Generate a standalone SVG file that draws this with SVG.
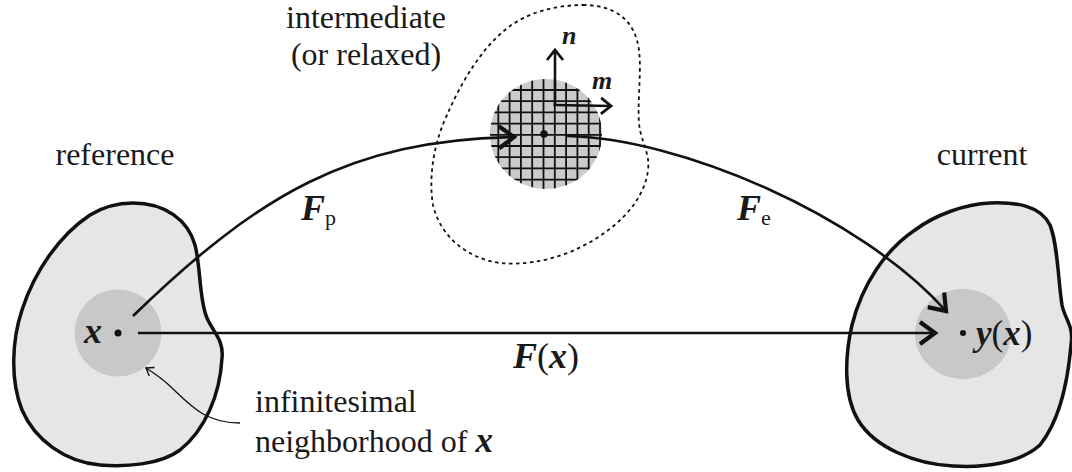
<svg xmlns="http://www.w3.org/2000/svg" width="1072" height="472" viewBox="0 0 1072 472">
<style>
  .txt { font-family: 'Liberation Serif', 'Times New Roman', serif; font-size: 32px; fill: #1a1a1a; }
  .math { font-family: 'Liberation Serif', 'Times New Roman', serif; font-style: italic; font-weight: bold; fill: #1a1a1a; }
  .up { font-style: normal; font-weight: normal; }
  .body { fill: #e6e6e6; stroke: #111; stroke-width: 3.5; stroke-linejoin: round; }
  .nbhd { fill: #c8c8c8; stroke: none; }
  .conn { fill: none; stroke: #111; stroke-width: 2.6; }
  .thin { fill: none; stroke: #111; stroke-width: 1.3; }
  .grid line { stroke: #111; stroke-width: 1.8; }
  .dot { fill: #111; }
</style>
<defs>
  <marker id="chev" markerUnits="userSpaceOnUse" orient="auto" refX="0" refY="0" markerWidth="30" markerHeight="30" overflow="visible">
    <path d="M -15,-11 L 0,0 L -15,11" fill="none" stroke="#111" stroke-width="4.2" stroke-linejoin="miter"/>
  </marker>
  <marker id="chev-m" markerUnits="userSpaceOnUse" orient="auto" refX="0" refY="0" markerWidth="20" markerHeight="20" overflow="visible">
    <path d="M -10,-8 L 0,0 L -10,8" fill="none" stroke="#111" stroke-width="2.8"/>
  </marker>
  <marker id="chev-s" markerUnits="userSpaceOnUse" orient="auto" refX="0" refY="0" markerWidth="14" markerHeight="14" overflow="visible">
    <path d="M -7,-5 L 0,0 L -7,5" fill="none" stroke="#111" stroke-width="1.4"/>
  </marker>
  <clipPath id="gridclip">
    <ellipse cx="546" cy="134" rx="56" ry="55"/>
  </clipPath>
</defs>

<g id="intermediate-region">
  <path d="M 583,5 C 615,5 635,20 639,50 C 642,75 636,110 640,130 C 643,145 650,155 648,170 C 644,205 610,235 570,252 C 545,262 520,265 500,263 C 465,258 440,235 433,205 C 428,175 435,140 447,115 C 460,85 480,50 505,30 C 525,13 555,5 583,5 Z" fill="none" stroke="#111" stroke-width="1.8" stroke-dasharray="3.5,3.5"/>
</g>

<g id="reference">
  <path class="body" d="M 133,203 C 165,203 188,220 195,245 C 201,268 199,300 207,318 C 213,332 224,340 222,358 C 220,395 205,430 180,450 C 160,465 125,467 100,465 C 65,462 35,440 22,410 C 10,380 12,340 22,310 C 35,270 60,235 90,215 C 103,207 118,203 133,203 Z"/>
  <circle class="nbhd" cx="118" cy="333" r="43.5"/>
  <circle class="dot" cx="118" cy="333" r="3.5"/>
  <text class="math" x="84" y="343" font-size="36">x</text>
</g>

<g id="current">
  <path class="body" d="M 990,203 C 1015,202 1040,205 1050,225 C 1058,245 1058,280 1062,305 C 1065,320 1074,325 1071,345 C 1068,380 1060,420 1040,445 C 1020,463 985,468 953,466 C 915,464 875,448 858,420 C 843,395 845,355 852,325 C 862,285 885,250 915,230 C 935,215 965,204 990,203 Z"/>
  <ellipse class="nbhd" cx="963" cy="334" rx="48" ry="45"/>
  <circle class="dot" cx="963" cy="333" r="3"/>
  <text class="math" x="976" y="345" font-size="35">y<tspan class="up">(</tspan>x<tspan class="up">)</tspan></text>
</g>

<g id="intermediate">
  <ellipse cx="546" cy="134" rx="56" ry="55" fill="#cbcbcb"/>
  <g class="grid" clip-path="url(#gridclip)">
    <line x1="498.3" y1="70" x2="498.3" y2="200"/>
    <line x1="509.6" y1="70" x2="509.6" y2="200"/>
    <line x1="520.9" y1="70" x2="520.9" y2="200"/>
    <line x1="532.2" y1="70" x2="532.2" y2="200"/>
    <line x1="543.5" y1="70" x2="543.5" y2="200"/>
    <line x1="554.8" y1="70" x2="554.8" y2="200"/>
    <line x1="566.1" y1="70" x2="566.1" y2="200"/>
    <line x1="577.4" y1="70" x2="577.4" y2="200"/>
    <line x1="588.7" y1="70" x2="588.7" y2="200"/>
    <line x1="600" y1="70" x2="600" y2="200"/>
    <line x1="480" y1="90" x2="610" y2="90"/>
    <line x1="480" y1="101.2" x2="610" y2="101.2"/>
    <line x1="480" y1="112.4" x2="610" y2="112.4"/>
    <line x1="480" y1="123.6" x2="610" y2="123.6"/>
    <line x1="480" y1="134.8" x2="610" y2="134.8"/>
    <line x1="480" y1="146" x2="610" y2="146"/>
    <line x1="480" y1="157.2" x2="610" y2="157.2"/>
    <line x1="480" y1="168.4" x2="610" y2="168.4"/>
    <line x1="480" y1="179.6" x2="610" y2="179.6"/>
  </g>
  <circle class="dot" cx="544" cy="134" r="3.8"/>
  <line class="conn" x1="555" y1="106" x2="555" y2="50" marker-end="url(#chev-m)"/>
  <line class="conn" x1="553.7" y1="105" x2="611" y2="106" marker-end="url(#chev-m)"/>
  <text class="math" x="562" y="44" font-size="26">n</text>
  <text class="math" x="592" y="89" font-size="26">m</text>
</g>

<g id="connectors">
  <path class="conn" d="M 133,316 C 258,195 350,140 514,137" marker-end="url(#chev)"/>
  <path class="conn" d="M 567,136 C 680,138 860,215 946,311" marker-end="url(#chev)"/>
  <line class="conn" x1="138" y1="333" x2="935" y2="333" marker-end="url(#chev)"/>
  <path class="thin" d="M 240,423 C 205,423 190,405 172,388 C 163,379 154,373 146,368" marker-end="url(#chev-s)"/>
</g>

<g id="labels">
  <text class="txt" x="366" y="28" text-anchor="middle">intermediate</text>
  <text class="txt" x="366" y="65" text-anchor="middle">(or relaxed)</text>
  <text class="txt" x="115" y="165" text-anchor="middle">reference</text>
  <text class="txt" x="982" y="165" text-anchor="middle">current</text>
  <text class="txt" x="255" y="412">infinitesimal</text>
  <text class="txt" x="255" y="452">neighborhood of <tspan class="math" font-size="35">x</tspan></text>
  <text class="math" x="301" y="220" font-size="36">F<tspan class="up" font-size="22" dy="5">p</tspan></text>
  <text class="math" x="737" y="220" font-size="36">F<tspan class="up" font-size="22" dy="5">e</tspan></text>
  <text class="math" x="513" y="368" font-size="36">F<tspan class="up">(</tspan>x<tspan class="up">)</tspan></text>
</g>
</svg>
